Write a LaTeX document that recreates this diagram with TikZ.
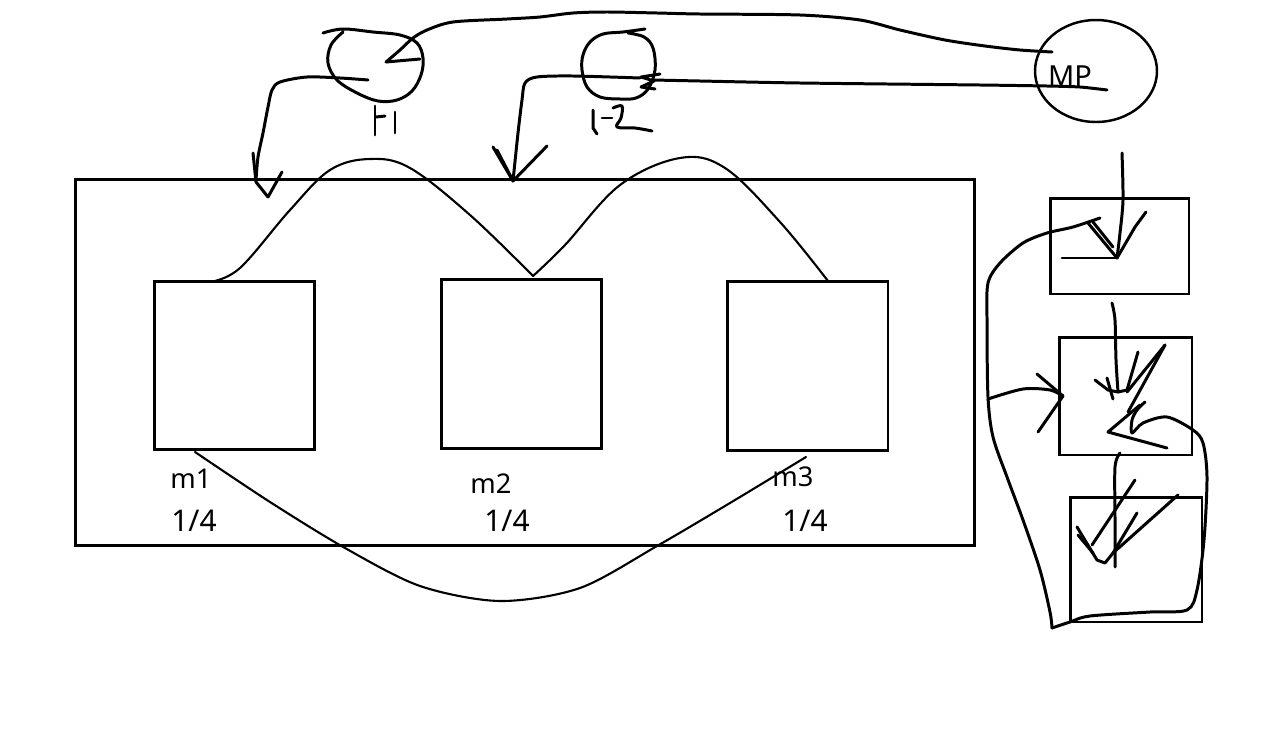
\documentclass[tikz,border=0pt]{standalone}
\usepackage{fontspec}
\setmainfont{Noto Sans}
\usetikzlibrary{shapes.geometric}
\begin{document}
\begin{tikzpicture}[x=0.02cm,y=-0.02cm,
  ink/.style={line width=1.7pt, line cap=round, line join=round},
  fine/.style={line width=1.2pt, line cap=round, line join=round},
  box/.style={draw, line width=1.7pt, rectangle, inner sep=0pt, outer sep=0pt},
  celllabel/.style={font=\fontsize{15.5}{18}\selectfont, inner sep=0pt},
  sharelabel/.style={font=\fontsize{17}{20}\selectfont, inner sep=0pt},
]
\useasboundingbox (0,0) rectangle (1274,744);

% frame and the three cells
\node[box, minimum width=18cm, minimum height=7.34cm] (frame) at (525,362.5) {};
\node[box, minimum width=3.22cm, minimum height=3.38cm] (m1) at (234.5,365.5) {};
\node[box, minimum width=3.22cm, minimum height=3.40cm] (m2) at (521.5,364) {};
\node[box, minimum width=3.22cm, minimum height=3.40cm] (m3) at (807.5,366) {};

\node[celllabel] (m1t) at (191,479) {m1};
\node[sharelabel] (m1f) at (194,521) {1/4};
\node[celllabel] (m2t) at (491,484) {m2};
\node[sharelabel] (m2f) at (507,521) {1/4};
\node[celllabel] (m3t) at (793,477) {m3};
\node[sharelabel] (m3f) at (805,521) {1/4};

% waves linking the cells
\coordinate (w1) at (210,282);
\coordinate (w2) at (533,276);
\coordinate (w3) at (828,281);
\draw[fine] plot[smooth, tension=0.6] coordinates {(w1) (240,268) (290,210) (330,170) (370,159) (410,168) (470,215) (w2)};
\draw[fine] plot[smooth, tension=0.6] coordinates {(w2) (565,245) (620,185) (680,158) (725,168) (780,222) (w3)};
\coordinate (l1) at (195,452);
\coordinate (l3) at (806,457);
\draw[fine] plot[smooth, tension=0.5] coordinates {(l1) (270,502) (345,548) (420,586) (500,601) (580,588) (657,546) (730,503) (l3)};

% MP node
\node[draw, ellipse, line width=1.4pt, minimum width=2.44cm, minimum height=2.04cm, inner sep=0pt] (mp) at (1096,71) {};
\node[font=\fontsize{16.5}{19}\selectfont, inner sep=0pt] (mpt) at (1070,76) {MP};

% F1 loop
\draw[ink] plot[smooth, tension=0.6] coordinates {(323,33) (343,29) (373,32) (400,35) (417,43) (423,58) (421,75) (412,91) (397,100) (378,101) (357,93) (337,80) (328,63) (331,45) (343,32)};
% F2 loop
\draw[ink] plot[smooth, tension=0.6] coordinates {(645,29) (623,32) (603,34) (590,42) (583,55) (582,70) (587,87) (600,97) (620,99) (636,98) (648,89) (655,70) (653,48) (644,37) (628,33)};

% hand lettering F1, F2
\draw[ink] (375,106) -- (375,135);
\draw[ink] (376,117) -- (385,116);
\draw[ink] (395,112) -- (395,133);
\draw[ink] (593,110) -- (593,128) -- (597,134);
\draw[ink] (602,118) -- (612,118);
\draw[ink] plot[smooth, tension=0.6] coordinates {(613,108) (622,106) (621,118) (617,127) (635,128) (652,131)};

% MP -> F1
\coordinate (mpa) at (1052,52);
\coordinate (f1tip) at (386,62);
\draw[ink] plot[smooth, tension=0.5] coordinates {(mpa) (1020,50) (985,46) (945,40) (900,30) (860,20) (800,15) (700,14) (657,13) (607,12) (573,13) (540,17) (507,19) (453,22) (427,30) (413,38) (400,50) (f1tip)};
\draw[ink] (f1tip) -- (420,59);

% MP -> F2
\coordinate (mpb) at (1107,90);
\coordinate (f2tip) at (653,80);
\draw[ink] plot[smooth, tension=0.4] coordinates {(mpb) (1080,87) (1047,86) (980,85) (800,83) (700,81) (f2tip)};
\draw[ink] (660,74) -- (641,77) -- (654,81) -- (641,87) -- (655,89);

% F1 -> frame
\coordinate (f1out) at (368,80);
\coordinate (a1) at (268,197);
\draw[ink] plot[smooth, tension=0.5] coordinates {(f1out) (340,78) (307,77) (280,82) (272,90) (268,107) (263,133) (258,157) (256,180)};
\draw[ink] (253,153) -- (256,182) -- (a1) -- (282,172);

% F2 -> frame
\coordinate (f2out) at (640,78);
\coordinate (a2) at (513,181);
\draw[ink] plot[smooth, tension=0.5] coordinates {(f2out) (573,76) (537,77) (525,83) (522,100) (518,133) (a2)};
\draw[ink] (493,147) -- (a2) -- (547,146);
\draw[ink] (497,150) -- (511,177);

% right column of cells
\node[box, minimum width=2.78cm, minimum height=1.92cm] (ra) at (1119.5,246) {};
\node[box, minimum width=2.66cm, minimum height=2.36cm] (rb) at (1125.5,396) {};
\node[box, minimum width=2.64cm, minimum height=2.5cm] (rc) at (1136,559.5) {};

% arrow down into the top cell
\coordinate (ta) at (1117,258);
\draw[ink] plot[smooth, tension=0.5] coordinates {(1122,153) (1123,200) (1120,233) (ta)};
\draw[ink] (1146,212) -- (1135,227) -- (ta);
\draw[ink] (1088,223) -- (ta);
\draw[ink] (1093,222) -- (1113,247);
\draw[ink] (1062,258) -- (ta);

% long loop round the left side
\draw[ink] plot[smooth, tension=0.5] coordinates {(1100,218) (1073,227) (1047,233) (1023,243) (1000,263) (988,283) (987,320) (988,397) (993,437) (1007,477) (1023,520) (1040,570) (1050,612) (1052,628)};
\draw[ink] plot[smooth, tension=0.5] coordinates {(1052,628) (1070,622) (1090,616) (1150,612) (1187,610) (1197,590) (1204,540) (1207,477) (1203,443) (1193,430) (1167,417) (1143,423) (1132,433) (1132,420) (1137,410) (1145,402)};
\coordinate (tb) at (1108,432);
\draw[ink] (1140,405) -- (tb) -- (1167,448);

% arrow from the left into the middle cell
\coordinate (tl) at (1063,396);
\draw[ink] plot[smooth, tension=0.5] coordinates {(988,399) (1023,389) (1050,390) (tl)};
\draw[ink] (1037,374) -- (tl) -- (1038,432);

% top cell -> middle cell
\coordinate (tm) at (1118,392);
\draw[ink] plot[smooth, tension=0.5] coordinates {(1112,303) (1115,320) (1116,360) (tm)};
\draw[ink] (1095,380) -- (1108,390) -- (tm);
\draw[ink] (1107,378) -- (1113,399);
\draw[ink] (1138,352) -- (1127,390) -- (tm);
\draw[ink] (1165,345) -- (1127,392);
\draw[ink] (1165,345) -- (1128,412);

% middle cell -> bottom cell
\coordinate (tc) at (1113,553);
\draw[ink] plot[smooth, tension=0.5] coordinates {(1120,453) (1115,467) (1115,520) (1115,567)};
\draw[ink] (1135,480) -- (1092,545);
\draw[ink] (1137,513) -- (tc);
\draw[ink] (1178,495) -- (tc);
\draw[ink] (1077,527) -- (1097,560) -- (1105,563) -- (tc);
\draw[ink] (1078,535) -- (1093,553);
\end{tikzpicture}
\end{document}
